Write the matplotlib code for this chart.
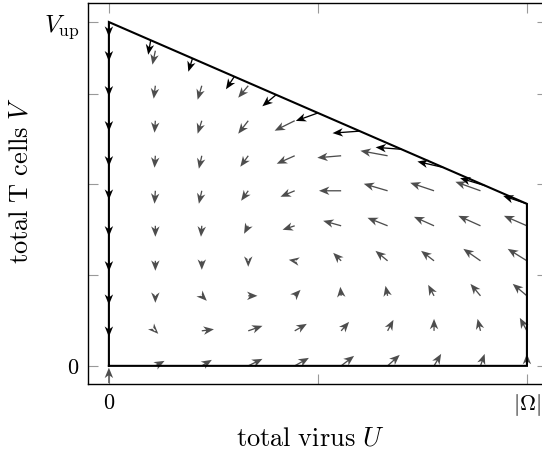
import numpy as np
import matplotlib
matplotlib.use("Agg")
import matplotlib.pyplot as plt

plt.rcParams["mathtext.fontset"] = "cm"
plt.rcParams["font.family"] = ["DejaVu Serif"]

# ---- model region --------------------------------------------------------
OMEGA = 1.0          # |Omega|, total virus capacity
V_UP = 3.79          # upper bound on T cells at U = 0
V_RIGHT = 1.786      # upper bound on T cells at U = |Omega|
V_STEP = 0.386       # spacing of the sampling rows in V

# sampling columns U = i/9 (i = 1..9); rows V = j * V_STEP from j = 0 upward
U_COLS = [1/9, 2/9, 3/9, 4/9, 5/9, 6/9, 7/9, 8/9, 9/9]

# vector field (dU/dt, dV/dt) at each interior node, in hundredths of an axis unit
DU = [
    [2.2, 0.7, 0.0, 0.0, 0.0, -0.2, -0.2, -0.2, -0.4, -0.7],
    [2.4, 2.9, 1.2, 0.0, -0.2, -0.7, -0.7, -1.0, -1.0],
    [3.4, 3.4, 2.2, 0.0, -1.0, -1.7, -1.9, -2.4, -2.4],
    [3.4, 2.9, 1.4, -1.4, -2.9, -3.4, -4.3, -4.8],
    [3.1, 1.9, -0.2, -1.9, -4.3, -5.3, -5.7],
    [2.9, 1.4, -0.5, -2.9, -4.8, -5.7, -6.5],
    [1.7, 0.0, -1.4, -3.1, -4.8, -5.7],
    [1.0, -0.7, -2.4, -4.1, -5.3, -6.0],
    [0.0, -1.7, -3.4, -4.6, -5.5],
]
DV = [
    [5.5, -3.3, -7.7, -11.0, -12.1, -14.3, -13.2, -13.2, -14.3, -15.4],
    [6.6, 1.7, -5.5, -9.9, -12.1, -14.3, -14.3, -14.3, -15.4],
    [7.7, 5.5, 0.0, -6.6, -8.8, -11.0, -12.1, -14.3, -13.2],
    [8.8, 7.7, 6.6, 1.1, -4.4, -6.6, -8.8, -11.0],
    [11.0, 9.9, 9.9, 8.8, 5.5, 0.0, -2.2],
    [12.1, 12.1, 11.0, 11.0, 8.8, 7.7, 5.5],
    [13.2, 13.2, 12.1, 11.0, 9.9, 8.8],
    [13.2, 13.2, 13.2, 13.2, 11.0, 9.9],
    [13.2, 14.3, 13.2, 13.2, 11.0],
]

# field on the slanted upper boundary, sampled at U = k/10
TOP_U = [0.0, 0.1, 0.2, 0.3, 0.4, 0.5, 0.6, 0.7, 0.8, 0.9, 1.0]
TOP_DU = [0.0, -0.6, -1.0, -2.0, -3.3, -5.3, -6.5, -6.2, -6.2, -6.0, -5.7]
TOP_DV = [-16.2, -16.0, -14.7, -14.0, -12.7, -8.8, -2.2, 2.2, 6.6, 8.3, 8.8]

# field on the U = 0 boundary at rows j = 1..9
LEFT_DV = [-6.6, -9.9, -11.8, -11.8, -9.9, -11.8, -11.8, -11.8, -11.8]

# arrow entering the origin from below
ORIGIN_V0 = -0.19
ORIGIN_DV = 17.0

# ---- assemble node arrays ------------------------------------------------
gx, gy, gu, gv = [], [], [], []
for u, du_col, dv_col in zip(U_COLS, DU, DV):
    for j, (du, dv) in enumerate(zip(du_col, dv_col)):
        gx.append(u)
        gy.append(j * V_STEP)
        gu.append(du / 100.0)
        gv.append(dv / 100.0)
gx.append(0.0); gy.append(ORIGIN_V0); gu.append(0.0); gv.append(ORIGIN_DV / 100.0)

bx, by, bu, bv = [], [], [], []
for u, du, dv in zip(TOP_U, TOP_DU, TOP_DV):
    bx.append(u)
    by.append(V_UP - (V_UP - V_RIGHT) * u / OMEGA)
    bu.append(du / 100.0)
    bv.append(dv / 100.0)
for j, dv in enumerate(LEFT_DV, start=1):
    bx.append(0.0)
    by.append(j * V_STEP)
    bu.append(0.0)
    bv.append(dv / 100.0)

# ---- figure ----------------------------------------------------------------
W, H = 542, 457
fig = plt.figure(figsize=(W / 100, H / 100), dpi=100)
ax = fig.add_axes([88 / W, (H - 384) / H, 459 / W, 381 / H])

ax.set_xlim(-0.05, 1.048)
ax.set_ylim(-0.2, 4.0)

arrow_kw = dict(angles="xy", scale_units="xy", scale=1, units="dots",
                width=1.3, headwidth=6.5, headlength=8.0, headaxislength=6.0,
                minshaft=0.0)
ax.quiver(gx, gy, gu, gv, color="#4d4d4d", zorder=3, **arrow_kw)

ax.plot([0, OMEGA, OMEGA, 0, 0], [0, 0, V_RIGHT, V_UP, 0],
        color="black", lw=1.5, solid_joinstyle="miter", zorder=4)

ax.quiver(bx, by, bu, bv, color="black", zorder=5, **arrow_kw)

# ---- axes decoration -------------------------------------------------------
ax.set_xticks([0, 0.5, 1.0])
ax.set_xticklabels([r"$0$", "", r"$|\Omega|$"])
ax.set_yticks([0, 1, 2, 3, V_UP])
ax.set_yticklabels([r"$0$", "", "", "", r"$V_{\mathrm{up}}$"])
ax.tick_params(direction="in", length=7.2, width=0.8, color="0.6",
               top=True, right=True, labelsize=16, pad=6)
ax.get_yticklabels()[-1].set_fontsize(18)
for s in ax.spines.values():
    s.set_linewidth(1.0)

ax.set_xlabel(r"$\mathrm{total\ virus}\ U$", fontsize=19)
ax.set_ylabel(r"$\mathrm{total\ T\ cells}\ V$", fontsize=19)
ax.xaxis.set_label_coords(0.484, -0.11)
ax.yaxis.set_label_coords(-0.122, 0.535)

fig.savefig("out.png", dpi=100)
